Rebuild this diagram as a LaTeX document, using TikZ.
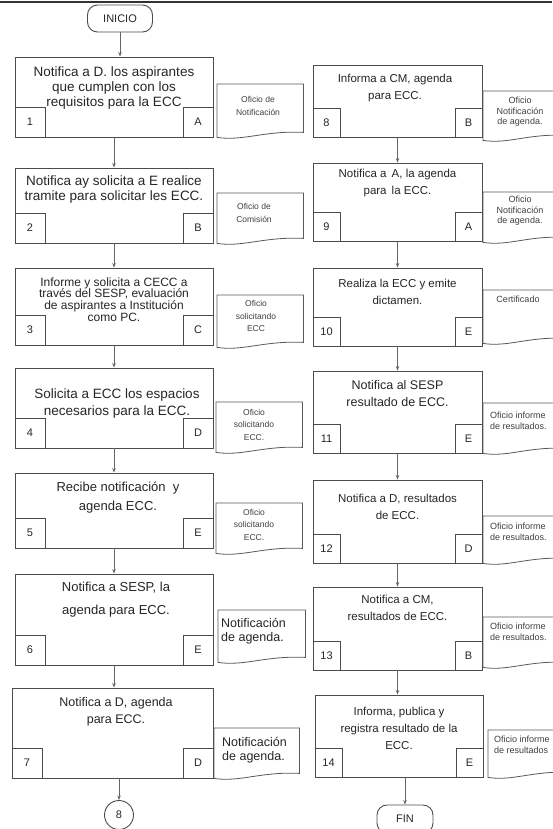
\documentclass[tikz,border=0pt]{standalone}
\usepackage{fontspec}
\setmainfont{Liberation Sans}
\usetikzlibrary{arrows.meta,calc}

\tikzset{
  stepbox/.style={draw=black!70, line width=0.9pt, fill=white, inner sep=0pt},
  numbox/.style={draw=black!70, line width=0.9pt, fill=white, minimum width=30pt, minimum height=30pt, inner sep=0pt, text=black!85, font=\fontsize{11}{12}\selectfont},
  rnumbox/.style={numbox, minimum width=27pt, minimum height=29pt},
  steptext/.style={align=center, inner sep=0pt, text=black!85, font=\fontsize{13.5}{15}\selectfont},
  rsteptext/.style={align=center, inner sep=0pt, text=black!85, font=\fontsize{11.5}{17}\selectfont},
  docline/.style={draw=black!65, line width=0.8pt, fill=white},
  doctext/.style={align=center, inner sep=0pt, text=black!75, font=\fontsize{8.5}{12.5}\selectfont},
  rdoctext/.style={align=left, inner sep=0pt, text=black!75, font=\fontsize{9}{10.5}\selectfont},
  bigdoctext/.style={align=left, inner sep=0pt, text=black!85, font=\fontsize{12.5}{14}\selectfont},
  flowarrow/.style={draw=black!60, line width=0.8pt, -{Stealth[length=4.5pt,width=3.5pt]}},
  endbox/.style={draw=black!70, line width=0.9pt, rounded corners=10pt, minimum width=65pt, minimum height=27pt, inner sep=0pt, text=black!85, font=\fontsize{11}{12}\selectfont},
  offpage/.style={draw=black!70, line width=0.9pt, circle, minimum size=29pt, inner sep=0pt, text=black!85, font=\fontsize{11}{12}\selectfont}
}

% document symbol: name, x, y (top left), width, height
\newcommand{\docshape}[5]{%
  \node[anchor=north west, minimum width=#4pt, minimum height=#5pt, inner sep=0pt] (#1) at (#2,#3) {};
  \draw[docline] (#1.south west) -- (#1.north west) -- (#1.north east) -- ([yshift=5pt]#1.south east)
    .. controls ($(#1.south west)!0.55!(#1.south east)+(0pt,7pt)$) and ($(#1.south west)!0.3!(#1.south east)+(0pt,-4pt)$) .. (#1.south west) -- cycle;}

\begin{document}
\begin{tikzpicture}[x=1pt,y=-1pt]
  \useasboundingbox (0,0) rectangle (552,829);
  \draw[line width=1.6pt, black!80] (0,2) -- (552,2);

  % left column
  \node[endbox] (inicio) at (120,18.5) {INICIO};
  \node[stepbox, minimum width=198pt, minimum height=80pt] (p1) at (114,97) {};
  \node[stepbox, minimum width=198pt, minimum height=75pt] (p2) at (114,205.5) {};
  \node[stepbox, minimum width=198pt, minimum height=77pt] (p3) at (114,306.5) {};
  \node[stepbox, minimum width=198pt, minimum height=80pt] (p4) at (114,408) {};
  \node[stepbox, minimum width=198pt, minimum height=75pt] (p5) at (114,510.5) {};
  \node[stepbox, minimum width=198pt, minimum height=91pt] (p6) at (114,619.5) {};
  \node[stepbox, minimum width=201pt, minimum height=90pt] (p7) at (112.5,733) {};
  \node[offpage] (c8) at (119,815) {8};

  \node[steptext] (t1) at (114,88) {Notifica a D. los aspirantes\\que cumplen con los\\requisitos para la ECC};
  \node[steptext] (t2) at (114,190) {Notifica ay solicita a E realice\\tramite para solicitar les ECC.};
  \node[steptext, font=\fontsize{12}{11.7}\selectfont] (t3) at (114,299.5) {Informe y solicita a CECC a\\través del SESP, evaluación\\de aspirantes a Institución\\como PC.};
  \node[steptext, font=\fontsize{13.5}{17}\selectfont] (t4) at (117,403.5) {Solicita a ECC los espacios\\necesarios para la ECC.};
  \node[steptext, font=\fontsize{13}{19}\selectfont] (t5) at (118,497.5) {Recibe notificación \ y\\agenda ECC.};
  \node[steptext, font=\fontsize{13}{23}\selectfont] (t6) at (116,600) {Notifica a SESP, la\\agenda para ECC.};
  \node[steptext, font=\fontsize{12.5}{17}\selectfont] (t7) at (116,711.5) {Notifica a D, agenda\\para ECC.};

  \node[numbox, anchor=south west] (n1) at (p1.south west) {1};
  \node[numbox, anchor=south east] (l1) at (p1.south east) {A};
  \node[numbox, anchor=south west] (n2) at (p2.south west) {2};
  \node[numbox, anchor=south east] (l2) at (p2.south east) {B};
  \node[numbox, anchor=south west] (n3) at (p3.south west) {3};
  \node[numbox, anchor=south east] (l3) at (p3.south east) {C};
  \node[numbox, anchor=south west] (n4) at (p4.south west) {4};
  \node[numbox, anchor=south east] (l4) at (p4.south east) {D};
  \node[numbox, anchor=south west] (n5) at (p5.south west) {5};
  \node[numbox, anchor=south east] (l5) at (p5.south east) {E};
  \node[numbox, anchor=south west] (n6) at (p6.south west) {6};
  \node[numbox, anchor=south east] (l6) at (p6.south east) {E};
  \node[numbox, anchor=south west] (n7) at (p7.south west) {7};
  \node[numbox, anchor=south east] (l7) at (p7.south east) {D};

  \draw[flowarrow] (inicio) -- (inicio |- p1.north);
  \draw[flowarrow] (p1) -- (p2);
  \draw[flowarrow] (p2) -- (p3);
  \draw[flowarrow] (p3) -- (p4);
  \draw[flowarrow] (p4) -- (p5);
  \draw[flowarrow] (p5) -- (p6);
  \draw[flowarrow] (p6.south) -- (p6.south |- p7.north);
  \draw[flowarrow] (c8 |- p7.south) -- (c8);

  \docshape{d1}{217}{84}{86}{53}
  \docshape{d2}{217}{193}{86}{50}
  \docshape{d3}{217}{295}{86}{52}
  \docshape{d4}{216}{402}{86}{50}
  \docshape{d5}{216}{503}{86}{50}
  \docshape{d6}{218}{610}{87}{52}
  \docshape{d7}{214}{728}{85}{50}
  \node[doctext] (dt1) at (258,106) {Oficio de\\Notificación};
  \node[doctext] (dt2) at (254,213) {Oficio de\\Comisión};
  \node[doctext] (dt3) at (256,316) {Oficio\\solicitando\\ECC};
  \node[doctext] (dt4) at (254,424.5) {Oficio\\solicitando\\ECC.};
  \node[doctext] (dt5) at (254,524.5) {Oficio\\solicitando\\ECC.};
  \node[bigdoctext, anchor=west] (dt6) at (221,631.5) {Notificación\\de agenda.};
  \node[bigdoctext, anchor=west] (dt7) at (222,750.5) {Notificación\\de agenda.};

  % right column
  \node[stepbox, minimum width=169pt, minimum height=72pt] (p8) at (397.5,101) {};
  \node[stepbox, minimum width=169pt, minimum height=78pt] (p9) at (397.5,202) {};
  \node[stepbox, minimum width=169pt, minimum height=78pt] (p10) at (397.5,307) {};
  \node[stepbox, minimum width=169pt, minimum height=82pt] (p11) at (397.5,412) {};
  \node[stepbox, minimum width=169pt, minimum height=83pt] (p12) at (397.5,521.5) {};
  \node[stepbox, minimum width=169pt, minimum height=83pt] (p13) at (397.5,628.5) {};
  \node[stepbox, minimum width=168pt, minimum height=82pt] (p14) at (399,736) {};
  \node[endbox, minimum width=56pt, minimum height=28pt] (fin) at (405,819) {FIN};

  \node[rsteptext] (t8) at (395,88.5) {Informa a CM, agenda\\para ECC.};
  \node[rsteptext] (t9) at (397.5,183.5) {Notifica a \,A, la agenda\\para \,la ECC.};
  \node[rsteptext] (t10) at (397.5,291.5) {Realiza la ECC y emite\\dictamen.};
  \node[rsteptext, font=\fontsize{12.5}{17}\selectfont] (t11) at (397.5,393.5) {Notifica al SESP\\resultado de ECC.};
  \node[rsteptext] (t12) at (397.5,506.5) {Notifica a D, resultados\\de ECC.};
  \node[rsteptext] (t13) at (397.5,607.5) {Notifica a CM,\\resultados de ECC.};
  \node[rsteptext, font=\fontsize{11.5}{17}\selectfont] (t14) at (399,728.5) {Informa, publica y\\registra resultado de la\\ECC.};

  \node[rnumbox, anchor=south west] (n8) at (p8.south west) {8};
  \node[rnumbox, anchor=south east] (l8) at (p8.south east) {B};
  \node[rnumbox, anchor=south west] (n9) at (p9.south west) {9};
  \node[rnumbox, anchor=south east] (l9) at (p9.south east) {A};
  \node[rnumbox, anchor=south west] (n10) at (p10.south west) {10};
  \node[rnumbox, anchor=south east] (l10) at (p10.south east) {E};
  \node[rnumbox, anchor=south west] (n11) at (p11.south west) {11};
  \node[rnumbox, anchor=south east] (l11) at (p11.south east) {E};
  \node[rnumbox, anchor=south west] (n12) at (p12.south west) {12};
  \node[rnumbox, anchor=south east] (l12) at (p12.south east) {D};
  \node[rnumbox, anchor=south west] (n13) at (p13.south west) {13};
  \node[rnumbox, anchor=south east] (l13) at (p13.south east) {B};
  \node[rnumbox, anchor=south west] (n14) at (p14.south west) {14};
  \node[rnumbox, anchor=south east] (l14) at (p14.south east) {E};

  \draw[flowarrow] (p8) -- (p9);
  \draw[flowarrow] (p9) -- (p10);
  \draw[flowarrow] (p10) -- (p11);
  \draw[flowarrow] (p11) -- (p12);
  \draw[flowarrow] (p12) -- (p13);
  \draw[flowarrow] (p13.south) -- (p13.south |- p14.north);
  \draw[flowarrow] (fin |- p14.south) -- (fin);

  \docshape{d8}{483}{91}{82}{49}
  \docshape{d9}{483}{192}{82}{50}
  \docshape{d10}{483}{290}{82}{53}
  \docshape{d11}{483}{403}{82}{50}
  \docshape{d12}{483}{516}{82}{47}
  \docshape{d13}{483}{617}{82}{50}
  \docshape{d14}{488}{730}{82}{47}
  \node[rdoctext, align=center] (dt8) at (520,112) {Oficio\\Notificación\\de agenda.};
  \node[rdoctext, align=center] (dt9) at (520,211) {Oficio\\Notificación\\de agenda.};
  \node[rdoctext, align=center] (dt10) at (518,299) {Certificado};
  \node[rdoctext, anchor=west] (dt11) at (490,421) {Oficio informe\\de resultados.};
  \node[rdoctext, anchor=west] (dt12) at (490,532) {Oficio informe\\de resultados.};
  \node[rdoctext, anchor=west] (dt13) at (490,632) {Oficio informe\\de resultados.};
  \node[rdoctext, anchor=west] (dt14) at (494,745) {Oficio informe\\de resultados};
\end{tikzpicture}
\end{document}
